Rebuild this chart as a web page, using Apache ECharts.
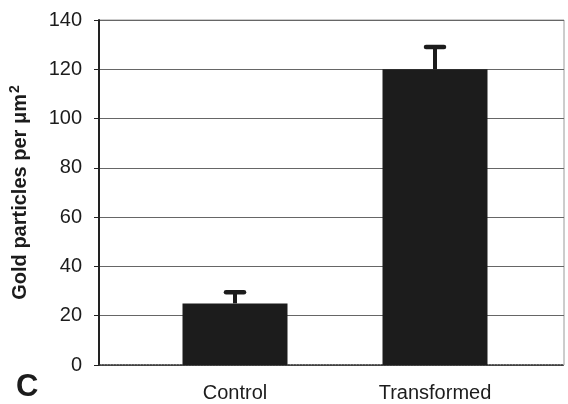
<!DOCTYPE html>
<html>
<head>
<meta charset="utf-8">
<script src="https://cdn.jsdelivr.net/npm/echarts@6/dist/echarts.min.js"></script>
<style>
  html, body { margin: 0; padding: 0; background: #fff; }
  #chart { width: 568px; height: 404px; }
</style>
</head>
<body>
<div id="chart"></div>
<script>
// Mean gold particle density with upper error (SD)
const categories = ['Control', 'Transformed'];
const means = [25, 120];
const errors = [4.5, 9];
const yTicks = { min: 0, max: 140, interval: 20 };

const chart = echarts.init(document.getElementById('chart'), null, { renderer: 'canvas' });
const font = 'Liberation Sans, Arial, sans-serif';
const ink = '#1c1c1c';

const errData = categories.map((c, i) => [i, means[i], means[i] + errors[i]]);

chart.setOption({
  animation: false,
  backgroundColor: '#ffffff',
  grid: [
    // frame holding the value axis and gridlines
    { left: 98, top: 20, right: 4, bottom: 39, show: true, borderColor: '#9a9a9a', borderWidth: 1 },
    // narrower band that positions the two bars
    { left: 135, top: 20, width: 400, bottom: 39 }
  ],
  xAxis: [
    { gridIndex: 0, type: 'category', data: [''], axisLabel: { show: false }, axisTick: { show: false },
      axisLine: { lineStyle: { color: '#333', width: 1.5, type: 'dotted' } } },
    { gridIndex: 1, type: 'category', data: categories, axisTick: { show: false }, axisLine: { show: false },
      axisLabel: { margin: 18, fontFamily: font, fontSize: 20, color: ink } }
  ],
  yAxis: [
    { gridIndex: 0, type: 'value', min: yTicks.min, max: yTicks.max, interval: yTicks.interval,
      axisLine: { show: true, lineStyle: { color: '#222', width: 2 } },
      axisTick: { show: true, length: 5, lineStyle: { color: '#222', width: 1 } },
      axisLabel: { margin: 17, fontFamily: font, fontSize: 20, color: ink },
      splitLine: { show: true, lineStyle: { color: '#666', width: 1 } },
      name: '{t|Gold particles per μm}{s|2}', nameLocation: 'middle', nameGap: 67,
      nameTextStyle: {
        fontFamily: font, fontSize: 20, fontWeight: 'bold', color: ink,
        rich: {
          t: { fontFamily: font, fontSize: 20, fontWeight: 'bold', color: ink },
          s: { fontFamily: font, fontSize: 14, fontWeight: 'bold', color: ink, verticalAlign: 'top', padding: [0, 0, 10, 1] }
        }
      } },
    { gridIndex: 1, type: 'value', min: yTicks.min, max: yTicks.max, interval: yTicks.interval, show: false }
  ],
  series: [
    { type: 'bar', xAxisIndex: 1, yAxisIndex: 1, data: means, barWidth: 105,
      itemStyle: { color: ink } },
    { type: 'custom', xAxisIndex: 1, yAxisIndex: 1, data: errData,
      renderItem: function (params, api) {
        const base = api.coord([api.value(0), api.value(1)]);
        const top = api.coord([api.value(0), api.value(2)]);
        return {
          type: 'group',
          children: [
            { type: 'line', shape: { x1: base[0], y1: base[1], x2: top[0], y2: top[1] },
              style: { stroke: ink, lineWidth: 4 } },
            { type: 'line', shape: { x1: top[0] - 9, y1: top[1], x2: top[0] + 9, y2: top[1] },
              style: { stroke: ink, lineWidth: 4.5, lineCap: 'round' } }
          ]
        };
      }
    }
  ],
  graphic: [
    { type: 'text', left: 16, top: 372,
      style: { text: 'C', fontFamily: font, fontSize: 31, fontWeight: 'bold', fill: ink } }
  ]
});
</script>
</body>
</html>
